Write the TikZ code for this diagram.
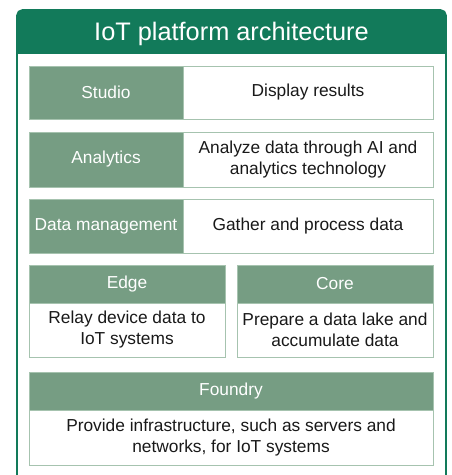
\documentclass[tikz,border=0pt]{standalone}
\usepackage{fontspec}
\setmainfont{Liberation Sans}
\definecolor{hdrgreen}{HTML}{127A5A}
\definecolor{labgreen}{HTML}{769D83}
\definecolor{rimgreen}{HTML}{A6C3AF}
\begin{document}
\begin{tikzpicture}[x=0.75pt,y=-0.75pt,
	lab/.style={draw=rimgreen,fill=labgreen,text=white,anchor=north west,
		inner sep=0pt,outer sep=0pt,align=center,font=\fontsize{13}{15.75}\selectfont},
	desc/.style={draw=rimgreen,fill=white,text=black!90,anchor=north west,
		inner sep=0pt,outer sep=0pt,align=center,font=\fontsize{13}{15.75}\selectfont}]
\useasboundingbox (0,0) rectangle (451,475);
% header band
\begin{scope}
	\clip (0,0) rectangle (451,53);
	\fill [hdrgreen,rounded corners=4pt] (17,10) rectangle (446,80);
\end{scope}
\draw [hdrgreen,line width=1.2pt,rounded corners=4pt] (17,480) -- (17,10) -- (446,10) -- (446,480);
\node [text=white,font=\fontsize{19}{23}\selectfont] (title) at (231.5,33.5) {IoT platform architecture};
% layers with label on the left
\foreach \y/\h/\nm/\lab/\txt in {66/39.75pt/studio/Studio/Display results,
	132/41.25pt/analytics/Analytics/{Analyze data through AI and\\analytics technology},
	199/40.5pt/datamgmt/Data management/Gather and process data}
	{
	\node [lab,minimum width=115.5pt,minimum height=\h] (\nm) at (29,\y) {\lab};
	\node [desc,minimum width=187.5pt,minimum height=\h] (\nm-txt) at (\nm.north east) {\txt};
	}
% edge and core
\node [lab,minimum width=147pt,minimum height=28.5pt] (edge) at (29,265) {Edge};
\node [desc,minimum width=147pt,minimum height=40.5pt] (edge-txt) at (edge.south west) {Relay device data to\\IoT systems};
\node [lab,minimum width=147pt,minimum height=28.5pt] (core) at (237,265) {Core};
\node [desc,minimum width=147pt,minimum height=40.5pt] (core-txt) at (core.south west) {Prepare a data lake and\\accumulate data};
% foundry
\node [lab,minimum width=303pt,minimum height=28.5pt] (foundry) at (29,372) {Foundry};
\node [desc,minimum width=303pt,minimum height=41.25pt] (foundry-txt) at (foundry.south west) {Provide infrastructure, such as servers and\\networks, for IoT systems};
\end{tikzpicture}
\end{document}
